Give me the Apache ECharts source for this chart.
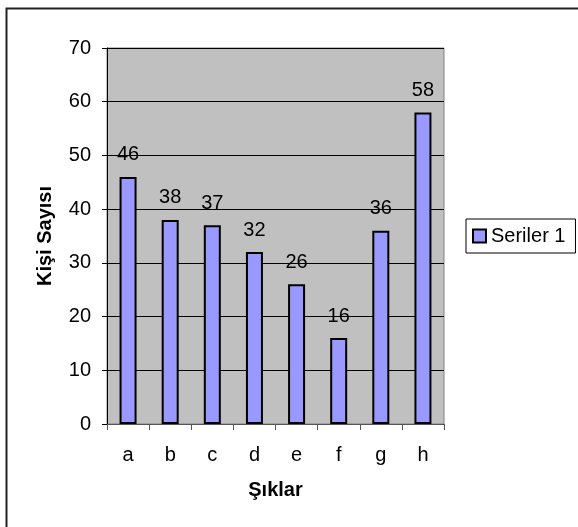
<!DOCTYPE html>
<html><head><meta charset="utf-8">
<script src="https://cdn.jsdelivr.net/npm/echarts@6/dist/echarts.min.js"></script>
<style>html,body{margin:0;padding:0;background:#fff}#c{width:578px;height:527px}</style>
</head><body><div id="c"></div>
<script>
const categories = ['a','b','c','d','e','f','g','h'];
const values = [46, 38, 37, 32, 26, 16, 36, 58];
const seriesName = 'Seriler 1';
const xTitle = 'Şıklar';
const yTitle = 'Kişi Sayısı';

const FONT = '"Liberation Sans", Arial, sans-serif';
const chart = echarts.init(document.getElementById('c'), null, {renderer:'canvas'});
chart.setOption({
  animation: false,
  backgroundColor: '#fff',
  graphic: [{type:'rect', shape:{x:6.5, y:8.5, width:700, height:700}, style:{fill:'none', stroke:'#222', lineWidth:2}, silent:true}],
  grid: {left:107, top:48, width:337, height:376, show:true, backgroundColor:'#C0C0C0', borderColor:'#808080', borderWidth:1, outerBoundsMode:'none', containLabel:false},
  legend: {
    left:466, top:219, orient:'vertical', data:[seriesName],
    borderColor:'#000', borderWidth:1, padding:[7,10,7,6],
    itemWidth:13, itemHeight:13, icon:'rect',
    textStyle:{fontSize:20, color:'#000', fontFamily:FONT}
  },
  xAxis: {
    type:'category', data:categories,
    name:xTitle, nameLocation:'middle', nameGap:56,
    nameTextStyle:{fontSize:20, fontWeight:'bold', color:'#000', fontFamily:FONT},
    axisLine:{lineStyle:{color:'#555', width:1}},
    axisTick:{show:true, alignWithLabel:false, length:6, lineStyle:{color:'#555'}},
    axisLabel:{fontSize:20, color:'#000', margin:21, fontFamily:FONT},
    splitLine:{show:false}
  },
  yAxis: {
    type:'value', min:0, max:70, interval:10,
    name:yTitle, nameLocation:'middle', nameGap:52, nameRotate:90,
    nameTextStyle:{fontSize:20, fontWeight:'bold', color:'#000', fontFamily:FONT},
    axisLine:{show:true, lineStyle:{color:'#000', width:1}},
    axisTick:{show:true, length:5, lineStyle:{color:'#000'}},
    axisLabel:{fontSize:20, color:'#000', margin:16, fontFamily:FONT},
    splitLine:{show:true, lineStyle:{color:'#000', width:1}}
  },
  series: [{
    type:'bar', name:seriesName, data:values, barWidth:17,
    itemStyle:{color:'#9999FF', borderColor:'#000', borderWidth:2},
    label:{show:true, position:'top', distance:12, fontSize:20, color:'#000', fontFamily:FONT}
  }]
});
</script></body></html>
